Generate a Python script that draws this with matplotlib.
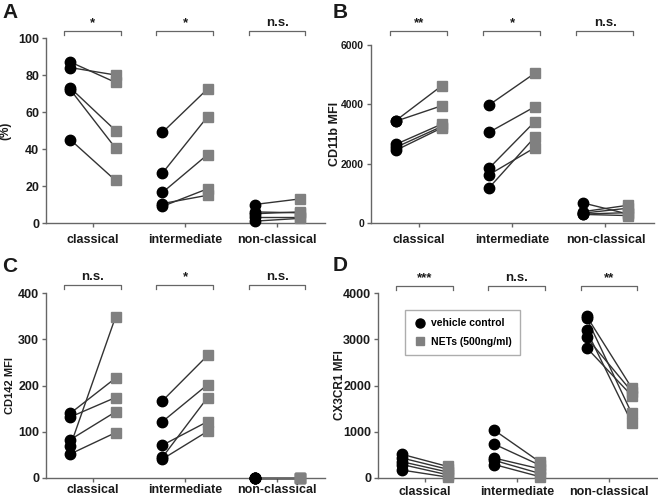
import matplotlib
matplotlib.use("Agg")
import matplotlib.pyplot as plt
import matplotlib.transforms as mtransforms
from matplotlib.lines import Line2D

plt.rcParams['font.family'] = ['Liberation Sans', 'DejaVu Sans']
plt.rcParams['font.weight'] = 'bold'

categories = ["classical", "intermediate", "non-classical"]

# Panel A (%)
a_vehicle = [[87, 84, 73, 72, 45], [49, 27, 16.5, 10.5, 9], [10, 6, 5, 3, 1]]
a_nets = [[76, 80, 50, 40.5, 23], [72.5, 57.5, 37, 15, 18.5], [13, 5.5, 6, 3, 2.5]]
a_sig = ["*", "*", "n.s."]

# Panel B CD11b MFI
b_vehicle = [[3450, 3430, 2650, 2550, 2450], [3980, 3060, 1850, 1630, 1190], [680, 380, 330, 300, 290]]
b_nets = [[4620, 3950, 3330, 3250, 3200], [5050, 3920, 3420, 2540, 2900], [300, 600, 500, 350, 250]]
b_sig = ["**", "*", "n.s."]

# Panel C CD142 MFI
c_vehicle = [[140, 132, 83, 70, 52], [167, 122, 71, 45, 41], [0, 0, 0, 0, 0]]
c_nets = [[216, 174, 143, 348, 98], [265, 202, 122, 174, 101], [0, 0, 0, 0, 0]]
c_sig = ["n.s.", "*", "n.s."]

# Panel D CX3CR1 MFI
d_vehicle = [[510, 430, 350, 290, 170], [1030, 730, 430, 380, 290], [3500, 3460, 3190, 3040, 2820]]
d_nets = [[250, 190, 130, 70, 20], [350, 280, 200, 100, 30], [1950, 1400, 1200, 1870, 1780]]
d_sig = ["***", "n.s.", "**"]

legend_labels = ["vehicle control", "NETs (500ng/ml)"]

SPINE = "#666666"
LINE = "#333333"
SQ = "#808080"
TXT = "#1a1a1a"

fig = plt.figure(figsize=(6.58, 4.98), dpi=100)

def px(l, r, t, b):
    W, H = 658.0, 498.0
    return [l / W, 1 - b / H, (r - l) / W, (b - t) / H]

panels = [
    dict(rect=px(46, 325, 38, 223), veh=a_vehicle, net=a_nets, sig=a_sig, ylim=(0, 100),
         yticks=[0, 20, 40, 60, 80, 100], ylabel="(%)", ylfs=8.5, lab_x=-0.125, letter="A",
         lxy=(2, 18), bry=1.038, tfs=9, xpad=5),
    dict(rect=px(371, 654, 45, 223), veh=b_vehicle, net=b_nets, sig=b_sig, ylim=(0, 6000),
         yticks=[0, 2000, 4000, 6000], ylabel="CD11b MFI", ylfs=9, lab_x=-0.107, letter="B",
         lxy=(333, 18), bry=1.078, tfs=7.5, xpad=5),
    dict(rect=px(46, 325, 293, 478), veh=c_vehicle, net=c_nets, sig=c_sig, ylim=(0, 400),
         yticks=[0, 100, 200, 300, 400], ylabel="CD142 MFI", ylfs=8, lab_x=-0.111, letter="C",
         lxy=(2, 272), bry=1.043, tfs=9, xpad=1),
    dict(rect=px(378, 657, 293, 478), veh=d_vehicle, net=d_nets, sig=d_sig, ylim=(0, 4000),
         yticks=[0, 1000, 2000, 3000, 4000], ylabel="CX3CR1 MFI", ylfs=8.5, lab_x=-0.115, letter="D",
         lxy=(333, 271), bry=1.038, tfs=9, xpad=3),
]

off = 0.245
for p in panels:
    ax = fig.add_axes(p["rect"])
    for i, (vv, nn) in enumerate(zip(p["veh"], p["net"])):
        for v, n in zip(vv, nn):
            ax.plot([i - off, i + off], [v, n], color=LINE, lw=1.0, zorder=2, clip_on=False)
        ax.plot([i - off] * len(vv), vv, 'o', color='black', ms=7.5, zorder=4, clip_on=False)
        ax.plot([i + off] * len(nn), nn, 's', color=SQ, ms=6.8, mec=SQ, zorder=3, clip_on=False)
    ax.set_xlim(-0.51, 2.52)
    ax.set_ylim(*p["ylim"])
    ax.set_yticks(p["yticks"])
    ax.set_xticks(range(3))
    ax.set_xticklabels(categories)
    for s in ["top", "right"]:
        ax.spines[s].set_visible(False)
    for s in ["left", "bottom"]:
        ax.spines[s].set_color(SPINE)
        ax.spines[s].set_linewidth(1.0)
    ax.tick_params(axis='both', colors=SPINE, labelcolor=TXT, length=3, width=1)
    ax.tick_params(axis='x', pad=p["xpad"], labelsize=9)
    ax.tick_params(axis='y', pad=2, labelsize=p["tfs"])
    for t in ax.get_xticklabels() + ax.get_yticklabels():
        t.set_fontweight('bold')
    ax.set_ylabel(p["ylabel"], fontsize=p["ylfs"], fontweight='bold', color=TXT)
    ax.yaxis.set_label_coords(p["lab_x"], 0.5)
    trans = mtransforms.blended_transform_factory(ax.transData, ax.transAxes)
    y = p["bry"]
    for i, s in enumerate(p["sig"]):
        x0, x1 = i - 0.31, i + 0.30
        ax.plot([x0, x0, x1, x1], [y - 0.02, y, y, y - 0.02], color=SPINE, lw=0.9,
                transform=trans, clip_on=False)
        ax.text(i, y + 0.01, s, transform=trans, ha='center', va='bottom',
                fontsize=9.5, fontweight='bold', color=TXT)
    fig.text(p["lxy"][0] / 658.0, 1 - p["lxy"][1] / 498.0, p["letter"], fontsize=15,
             fontweight='bold', ha='left', va='baseline', color=TXT)
    if p["letter"] == "D":
        handles = [Line2D([], [], marker='o', color='black', ls='none', ms=6.5),
                   Line2D([], [], marker='s', color=SQ, mec=SQ, ls='none', ms=6)]
        leg = ax.legend(handles, legend_labels, loc='upper left', bbox_to_anchor=(0.097, 0.908),
                        borderaxespad=0, frameon=True, fancybox=False,
                        prop={'weight': 'bold', 'size': 7.5},
                        handletextpad=0.4, borderpad=0.8, labelspacing=0.8, handlelength=1.3)
        leg.get_frame().set_edgecolor("#999999")
        leg.get_frame().set_linewidth(1.0)

fig.savefig("out.png", dpi=100)
